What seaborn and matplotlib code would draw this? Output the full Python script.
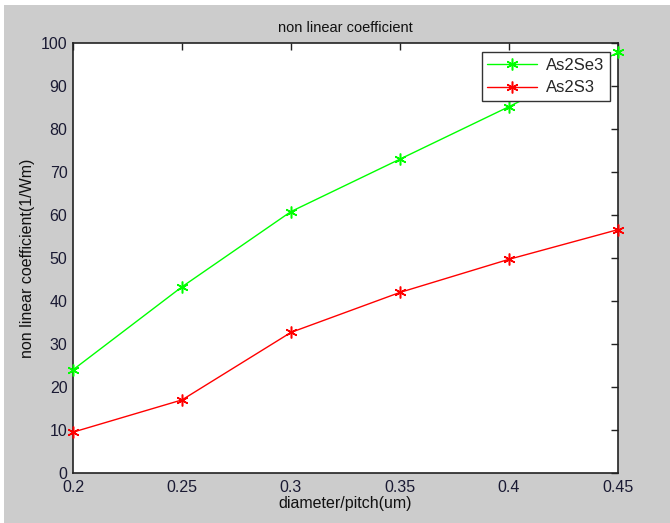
import matplotlib
matplotlib.use("Agg")
import matplotlib.pyplot as plt
import seaborn as sns
import pandas as pd
from matplotlib.patches import Rectangle

x_vals = [0.2, 0.25, 0.3, 0.35, 0.4, 0.45]
as2se3 = [24, 43.3, 60.8, 73, 85.2, 97.8]
as2s3 = [9.5, 17, 32.7, 42, 49.7, 56.6]
series_names = ["As2Se3", "As2S3"]
series_colors = ["#00ff00", "#ff0000"]
x_ticks = [0.2, 0.25, 0.3, 0.35, 0.4, 0.45]
x_tick_labels = ["0.2", "0.25", "0.3", "0.35", "0.4", "0.45"]
y_ticks = list(range(0, 101, 10))

df = pd.DataFrame({
    "x": x_vals * 2,
    "y": as2se3 + as2s3,
    "series": [series_names[0]] * len(x_vals) + [series_names[1]] * len(x_vals),
})

sns.set_theme(style="white")
plt.rcParams["font.family"] = ["Liberation Sans", "DejaVu Sans"]

fig = plt.figure(figsize=(6.7, 5.23), dpi=100, facecolor="#cccccc")
# white strips at top and left edge of the screenshot
fig.patches.append(Rectangle((0, 1 - 5 / 523), 1, 5 / 523, transform=fig.transFigure,
                             facecolor="white", edgecolor="none", zorder=-1))
fig.patches.append(Rectangle((0, 0), 4 / 670, 1, transform=fig.transFigure,
                             facecolor="white", edgecolor="none", zorder=-1))

ax = fig.add_axes([73 / 670, 50 / 523, 545 / 670, 430 / 523])
ax.set_facecolor("white")

sns.lineplot(data=df, x="x", y="y", hue="series", palette=series_colors,
             marker=(6, 2, 0), markersize=8.5, markeredgewidth=1.1, linewidth=1.0,
             ax=ax, legend=True)
for ln in ax.lines:
    ln.set_markeredgecolor(ln.get_color())
    ln.set_markerfacecolor(ln.get_color())
    ln.set_clip_on(False)
    ln.set_zorder(5)

ax.set_xlim(0.2, 0.45)
ax.set_ylim(0, 100)
ax.set_xticks(x_ticks)
ax.set_xticklabels(x_tick_labels)
ax.set_yticks(y_ticks)
ax.tick_params(direction="in", length=5, width=1.0, top=True, right=True,
               labelsize=11.5, colors="#222222", pad=5)
ax.tick_params(axis="x", labelcolor="#1a1a33")
ax.tick_params(axis="y", labelcolor="#1a1a33", pad=4)
for s in ax.spines.values():
    s.set_visible(True)
    s.set_color("#222222")
    s.set_linewidth(1.2)

ax.set_title("non linear coefficient", fontsize=10.5, color="#111111", pad=8)
ax.set_xlabel("diameter/pitch(um)", fontsize=11.5, color="#111111", labelpad=1)
ax.set_ylabel("non linear coefficient(1/Wm)", fontsize=11.5, color="#111111", labelpad=4)

handles, labels = ax.get_legend_handles_labels()
for h in handles:
    h.set_markeredgecolor(h.get_color())
    h.set_markerfacecolor(h.get_color())
leg = ax.legend(handles, labels, loc="upper right", bbox_to_anchor=(0.985, 0.979),
                frameon=True, fancybox=False, fontsize=12, borderpad=0.35,
                handlelength=3.0, labelspacing=0.45, handletextpad=0.5, borderaxespad=0)
leg.get_frame().set_edgecolor("#333333")
leg.get_frame().set_linewidth(1.0)
leg.get_frame().set_facecolor("white")
leg.get_frame().set_alpha(1)
leg.set_zorder(10)

fig.savefig("out.png", dpi=100, facecolor=fig.get_facecolor())
